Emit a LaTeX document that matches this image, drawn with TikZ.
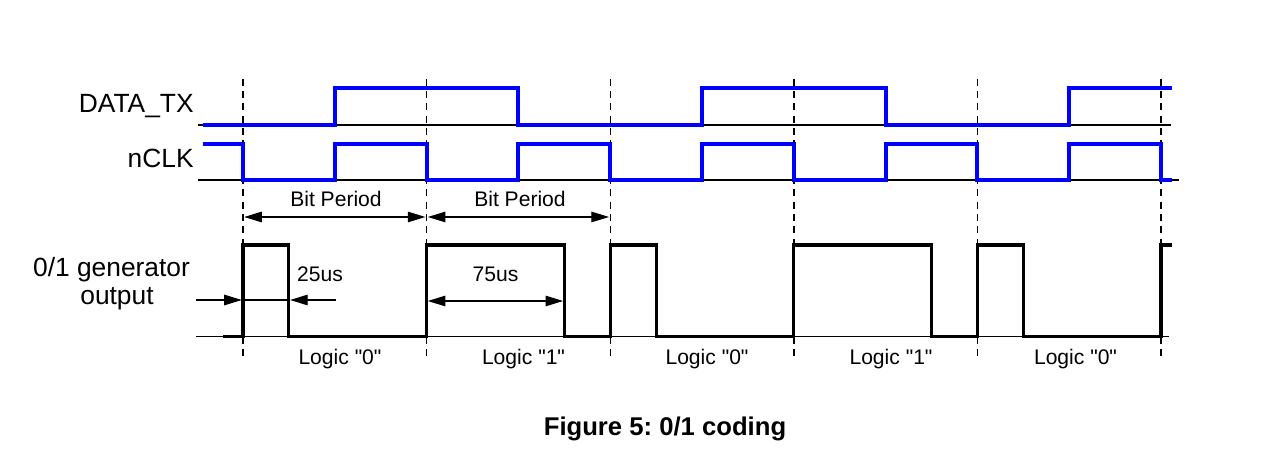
\documentclass[tikz,border=0pt]{standalone}
\usepackage{fontspec}
\setmainfont{Liberation Sans}
\usepackage{tikz}
\usetikzlibrary{arrows.meta}
\frenchspacing
\pgfdeclarelayer{edgelayer}
\pgfdeclarelayer{nodelayer}
\pgfsetlayers{edgelayer,nodelayer,main}
\tikzstyle{none}=[inner sep=0pt]
\tikzstyle{signame}=[inner sep=0pt,anchor=base east,font=\fontsize{15}{18}\selectfont]
\tikzstyle{bigtext}=[inner sep=0pt,anchor=base,font=\fontsize{15}{18}\selectfont]
\tikzstyle{smalltext}=[inner sep=0pt,anchor=base,font=\fontsize{12}{14}\selectfont]
\tikzstyle{captiontext}=[inner sep=0pt,anchor=base,font=\fontsize{14.6}{17}\selectfont\bfseries]
\tikzstyle{bluewave}=[-,draw=blue,line width=2.200,line join=miter]
\tikzstyle{blackwave}=[-,draw=black,line width=1.800,line join=miter]
\tikzstyle{thiny}=[-,draw=black,line width=0.600]
\tikzstyle{divider}=[-,draw=black,line width=0.800,dash pattern=on 4pt off 3pt]
\tikzstyle{dimarrow}=[-{Triangle[length=10pt,width=6pt]},draw=black,line width=0.600]
\tikzstyle{dimboth}=[{Triangle[length=10pt,width=6pt]}-{Triangle[length=10pt,width=6pt]},draw=black,line width=0.600]

\begin{document}
\begin{tikzpicture}
					\useasboundingbox (0.000,0.000) rectangle (25.440,-9.220);
					\begin{pgfonlayer}{nodelayer}
						\node [style=signame] (datatx) at (3.880,-2.260) {DATA\_TX};
						\node [style=signame] (nclk) at (3.880,-3.360) {nCLK};
						\node [style=bigtext] (gen) at (2.230,-5.540) {0/1 generator};
						\node [style=bigtext] (gen0) at (2.340,-6.100) {output};
						\node [style=smalltext] (bitperiod) at (6.720,-4.140) {Bit Period};
						\node [style=smalltext] (bitperiod0) at (10.400,-4.140) {Bit Period};
						\node [style=smalltext] (short) at (6.400,-5.640) {25us};
						\node [style=smalltext] (long) at (9.910,-5.640) {75us};
						\node [style=smalltext] (logic) at (6.800,-7.300) {Logic \textquotedbl0\textquotedbl};
						\node [style=smalltext] (logic0) at (10.470,-7.300) {Logic \textquotedbl1\textquotedbl};
						\node [style=smalltext] (logic1) at (14.140,-7.300) {Logic \textquotedbl0\textquotedbl};
						\node [style=smalltext] (logic2) at (17.820,-7.300) {Logic \textquotedbl1\textquotedbl};
						\node [style=smalltext] (logic3) at (21.510,-7.300) {Logic \textquotedbl0\textquotedbl};
						\node [style=captiontext] (caption) at (13.300,-8.700) {Figure 5: 0/1 coding};
						\node [style=none] (divider) at (4.860,-1.550) {};
						\node [style=none] (divider0) at (4.860,-7.200) {};
						\node [style=none] (divider1) at (8.532,-1.550) {};
						\node [style=none] (divider2) at (8.532,-7.200) {};
						\node [style=none] (divider3) at (12.204,-1.550) {};
						\node [style=none] (divider4) at (12.204,-7.200) {};
						\node [style=none] (divider5) at (15.876,-1.550) {};
						\node [style=none] (divider6) at (15.876,-7.200) {};
						\node [style=none] (divider7) at (19.548,-1.550) {};
						\node [style=none] (divider8) at (19.548,-7.200) {};
						\node [style=none] (divider9) at (23.220,-1.550) {};
						\node [style=none] (divider10) at (23.220,-7.200) {};
						\node [style=none] (database) at (3.940,-2.500) {};
						\node [style=none] (database0) at (23.440,-2.500) {};
						\node [style=none] (clkbase) at (3.940,-3.600) {};
						\node [style=none] (clkbase0) at (23.600,-3.600) {};
						\node [style=none] (genbase) at (3.900,-6.730) {};
						\node [style=none] (genbase0) at (23.400,-6.730) {};
						\node [style=none] (period) at (4.860,-4.340) {};
						\node [style=none] (period0) at (8.532,-4.340) {};
						\node [style=none] (period1) at (12.204,-4.340) {};
						\node [style=none] (shortarrow) at (3.900,-6.000) {};
						\node [style=none] (shortarrow0) at (4.860,-6.000) {};
						\node [style=none] (shortarrow1) at (5.778,-6.000) {};
						\node [style=none] (shortarrow2) at (6.740,-6.000) {};
						\node [style=none] (longarrow) at (8.532,-6.020) {};
						\node [style=none] (longarrow0) at (11.286,-6.020) {};
					\end{pgfonlayer}
					\begin{pgfonlayer}{edgelayer}
						\draw [style=thiny] (database) to (database0);
						\draw [style=thiny] (clkbase) to (clkbase0);
						\draw [style=thiny] (genbase) to (genbase0);
						\draw [style=divider] (divider) to (divider0);
						\draw [style=divider] (divider1) to (divider2);
						\draw [style=divider] (divider3) to (divider4);
						\draw [style=divider] (divider5) to (divider6);
						\draw [style=divider] (divider7) to (divider8);
						\draw [style=divider] (divider9) to (divider10);
						\draw [style=dimboth] (period) to (period0);
						\draw [style=dimboth] (period0) to (period1);
						\draw [style=dimarrow] (shortarrow) to (shortarrow0);
						\draw [style=thiny] (shortarrow0) to (shortarrow1);
						\draw [style=dimarrow] (shortarrow2) to (shortarrow1);
						\draw [style=dimboth] (longarrow) to (longarrow0);
					\end{pgfonlayer}
					% waveforms
					\draw [style=bluewave] (4.060,-2.500) -- (6.696,-2.500) -- (6.696,-1.760) -- (10.368,-1.760) -- (10.368,-2.500) -- (14.040,-2.500) -- (14.040,-1.760) -- (17.712,-1.760) -- (17.712,-2.500) -- (21.384,-2.500) -- (21.384,-1.760) -- (23.440,-1.760);
					\draw [style=bluewave] (4.060,-2.880) -- (4.860,-2.880) -- (4.860,-3.600) -- (6.696,-3.600) -- (6.696,-2.880) -- (8.532,-2.880) -- (8.532,-3.600) -- (10.368,-3.600) -- (10.368,-2.880) -- (12.204,-2.880) -- (12.204,-3.600) -- (14.040,-3.600) -- (14.040,-2.880) -- (15.876,-2.880) -- (15.876,-3.600) -- (17.712,-3.600) -- (17.712,-2.880) -- (19.548,-2.880) -- (19.548,-3.600) -- (21.384,-3.600) -- (21.384,-2.880) -- (23.220,-2.880) -- (23.220,-3.600) -- (23.440,-3.600);
					\draw [style=blackwave] (4.460,-6.730) -- (4.860,-6.730) -- (4.860,-4.900) -- (5.778,-4.900) -- (5.778,-6.730) -- (8.532,-6.730) -- (8.532,-4.900) -- (11.286,-4.900) -- (11.286,-6.730) -- (12.204,-6.730) -- (12.204,-4.900) -- (13.122,-4.900) -- (13.122,-6.730) -- (15.876,-6.730) -- (15.876,-4.900) -- (18.630,-4.900) -- (18.630,-6.730) -- (19.548,-6.730) -- (19.548,-4.900) -- (20.466,-4.900) -- (20.466,-6.730) -- (23.220,-6.730) -- (23.220,-4.900) -- (23.440,-4.900);
				\end{tikzpicture}
\end{document}
